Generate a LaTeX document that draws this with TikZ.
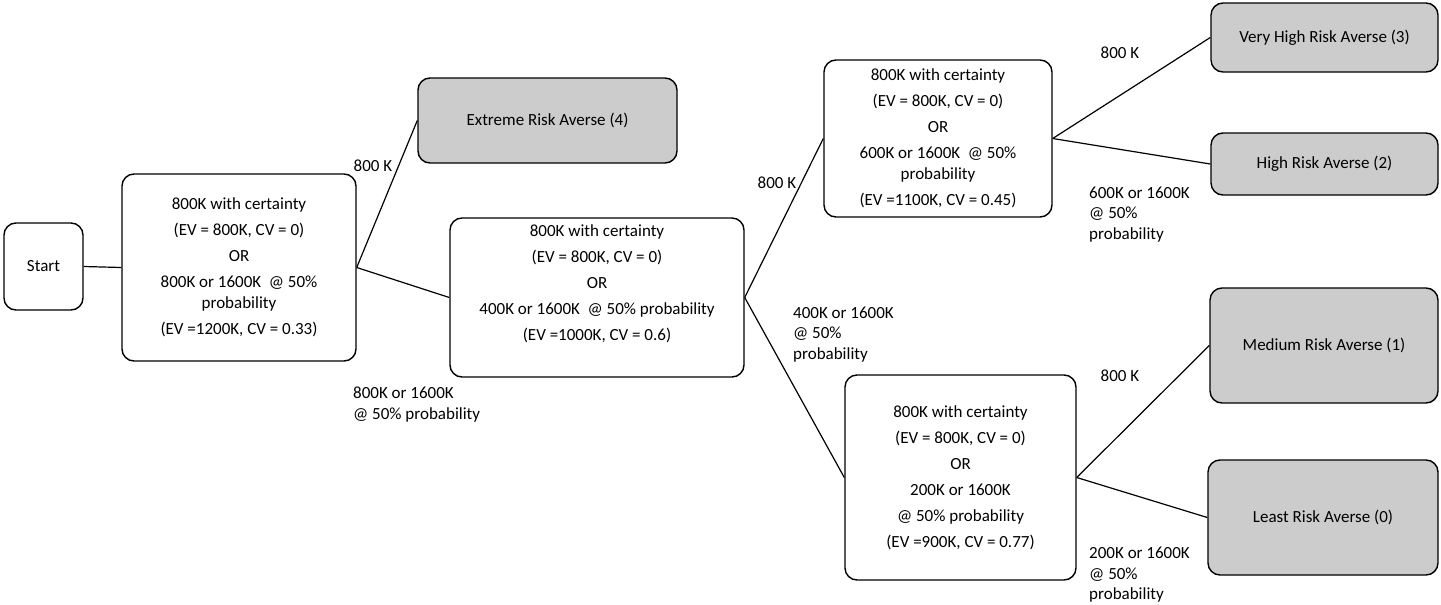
\documentclass[tikz,border=0pt]{standalone}
\usepackage{fontspec}
\setmainfont{Carlito}
\definecolor{boxgray}{RGB}{204,204,204}
\begin{document}
\begin{tikzpicture}[x=1pt,y=-1pt,
  txtfont/.style={font=\fontsize{17}{20.5}\selectfont},
  box/.style={draw, line width=1.4pt, rounded corners=12pt, align=center, inner sep=0pt, txtfont},
  leaf/.style={box, fill=boxgray},
  lbl/.style={txtfont, align=left, inner sep=0pt},
  conn/.style={line width=1.2pt}]
\useasboundingbox (0,0) rectangle (1441,605);
\node[box, minimum width=79pt, minimum height=87pt] (start) at (43.5,266.5) {Start};
\node[box, minimum width=234pt, minimum height=187pt] (b1) at (239,267.5)
  {800K with certainty\\[5.5pt] (EV = 800K, CV = 0)\\[5.5pt] OR\\[5.5pt] 800K or 1600K\ \ @ 50\%\\ probability\\[5.5pt] (EV =1200K, CV = 0.33)};
\node[leaf, minimum width=259pt, minimum height=85pt] (ext) at (547.5,120.5) {Extreme Risk Averse (4)};
\node[box, minimum width=294pt, minimum height=159pt] (b2) at (597,297.5) {};
\node[txtfont, align=center, inner sep=0pt] (b2t) at ([yshift=14pt]b2.center)
  {800K with certainty\\[5.5pt] (EV = 800K, CV = 0)\\[5.5pt] OR\\[5.5pt] 400K or 1600K\ \ @ 50\% probability\\[5.5pt] (EV =1000K, CV = 0.6)};
\node[box, minimum width=228pt, minimum height=157pt] (b3) at (938,138.5)
  {800K with certainty\\[5.5pt] (EV = 800K, CV = 0)\\[5.5pt] OR\\[5.5pt] 600K or 1600K\ \ @ 50\%\\ probability\\[5.5pt] (EV =1100K, CV = 0.45)};
\node[leaf, minimum width=227pt, minimum height=69pt] (vh) at (1324.5,37.5) {Very High Risk Averse (3)};
\node[leaf, minimum width=227pt, minimum height=62pt] (hi) at (1324.5,164) {High Risk Averse (2)};
\node[box, minimum width=231pt, minimum height=205pt] (b4) at (960.5,477.5)
  {800K with certainty\\[5.5pt] (EV = 800K, CV = 0)\\[5.5pt] OR\\[5.5pt] 200K or 1600K\\[5.5pt] @ 50\% probability\\[5.5pt] (EV =900K, CV = 0.77)};
\node[leaf, minimum width=228pt, minimum height=115pt] (med) at (1324,345.5) {Medium Risk Averse (1)};
\node[leaf, minimum width=230pt, minimum height=115pt] (least) at (1323,517.5) {Least Risk Averse (0)};

\draw[conn] (start.east) -- (b1.west);
\draw[conn] (b1.east) -- (ext.west);
\draw[conn] (b1.east) -- (b2.west);
\draw[conn] (b2.east) -- (b3.west);
\draw[conn] (b2.east) -- (b4.west);
\draw[conn] (b3.east) -- (vh.west);
\draw[conn] (b3.east) -- (hi.west);
\draw[conn] (b4.east) -- (med.west);
\draw[conn] (b4.east) -- (least.west);

\node[lbl] (l1) at (373,166) {800 K};
\node[lbl, anchor=west] (l2) at (353,404.5) {800K or 1600K\\@ 50\% probability};
\node[lbl] (l3) at (777,183) {800 K};
\node[lbl, anchor=west] (l4) at (793,334.5) {400K or 1600K\\@ 50\%\\probability};
\node[lbl] (l5) at (1120,53) {800 K};
\node[lbl, anchor=west] (l6) at (1089,214.5) {600K or 1600K\\@ 50\%\\probability};
\node[lbl] (l7) at (1120,376) {800 K};
\node[lbl, anchor=west] (l8) at (1089,575) {200K or 1600K\\@ 50\%\\probability};
\end{tikzpicture}
\end{document}
